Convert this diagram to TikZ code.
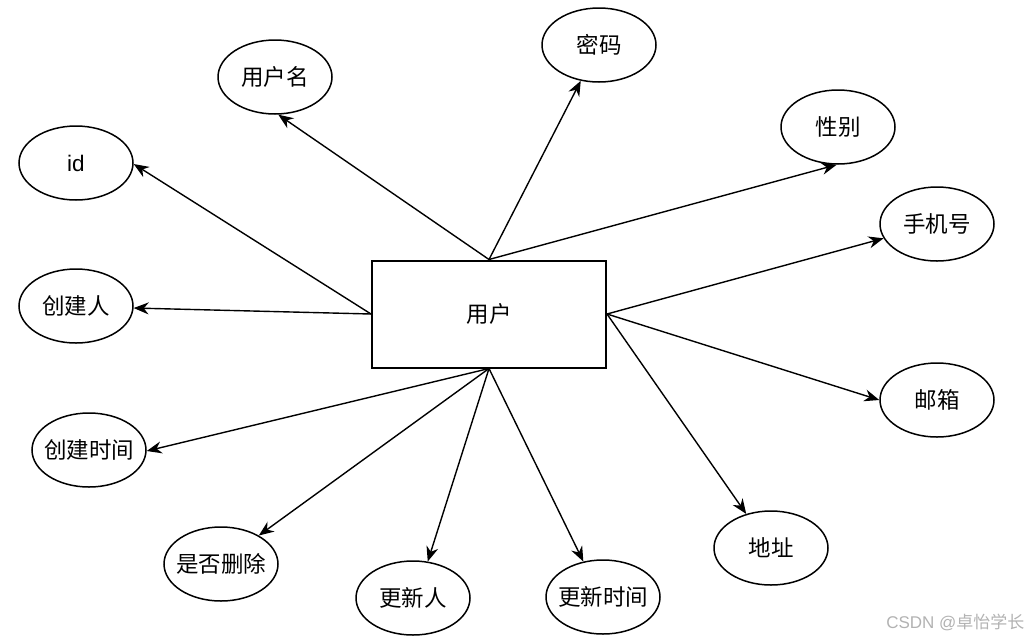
\documentclass[tikz,border=0pt]{standalone}
\usepackage{fontspec}
\setmainfont{Liberation Sans}
\newfontfamily\cjk{Noto Sans CJK SC}
\usetikzlibrary{arrows.meta,shapes.geometric}
\begin{document}
\begin{tikzpicture}[x=1pt,y=-1pt,
  attr/.style={draw, ellipse, line width=1.5pt, minimum width=114pt, minimum height=74pt, inner xsep=-30pt, inner ysep=0pt, font=\cjk\fontsize{22.5}{26}\selectfont},
  ent/.style={draw, rectangle, line width=2pt, minimum width=234pt, minimum height=107pt, font=\cjk\fontsize{22.5}{26}\selectfont},
  link/.style={line width=1.4pt, -{Stealth[length=15pt,width=12pt]}}
]
\useasboundingbox (0,0) rectangle (1033,641);
\node[ent] (u) at (489,314) {用户};
\node[attr] (mm) at (599,45) {密码};
\node[attr] (yhm) at (275,77) {用户名};
\node[attr] (xb) at (838,127) {性别};
\node[attr] (id) at (76,163) {\rmfamily id};
\node[attr] (sjh) at (937,224) {手机号};
\node[attr] (cjr) at (76,306) {创建人};
\node[attr] (yx) at (937,400) {邮箱};
\node[attr] (cjsj) at (89,450) {创建时间};
\node[attr] (sfsc) at (221,564) {是否删除};
\node[attr] (dz) at (771,548) {地址};
\node[attr] (gxr) at (413,598) {更新人};
\node[attr] (gxsj) at (603,597) {更新时间};

\draw[link] (u.north) -- (mm.-117);
\draw[link] (u.north) -- (yhm.-85);
\draw[link] (u.north) -- (xb.-92);
\draw[link] (u.west) -- (id.-1);
\draw[link] (u.west) -- (cjr.-2);
\draw[link] (u.east) -- (sjh.-165);
\draw[link] (u.east) -- (yx.180);
\draw[link] (u.east) -- (dz.126);
\draw[link] (u.south) -- (cjsj.-1);
\draw[link] (u.south) -- (sfsc.37);
\draw[link] (u.south) -- (gxr.68);
\draw[link] (u.south) -- (gxsj.119);

\node[text=black!30, font=\fontsize{17}{20}\selectfont, anchor=east] (wm) at (1028,622) {CSDN @{\cjk 卓怡学长}};
\end{tikzpicture}
\end{document}
